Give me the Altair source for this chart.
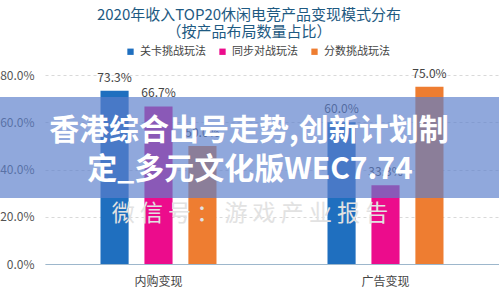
import altair as alt
import pandas as pd

categories = ["内购变现", "广告变现"]
series = ["关卡挑战玩法", "同步对战玩法", "分数挑战玩法"]
values_neigou = [0.733, 0.667, 0.500]
values_guanggao = [0.600, 0.333, 0.750]
colors = ["#1f6fbf", "#ec0c8c", "#ee7d31"]

title_line1 = "2020年收入TOP20休闲电竞产品变现模式分布"
title_line2 = "（按产品布局数量占比）"
banner_line1 = "香港综合出号走势,创新计划制"
banner_line2 = "定_多元文化版WEC7.74"
watermark = "微  信  号  ：  游  戏  产  业  报  告"

FONT = "Noto Sans CJK SC"

rows = []
for s, v in zip(series, values_neigou):
    rows.append({"cat": categories[0], "series": s, "value": v})
for s, v in zip(series, values_guanggao):
    rows.append({"cat": categories[1], "series": s, "value": v})
df = pd.DataFrame(rows)

x_scale = alt.Scale(paddingInner=0.489, paddingOuter=0.2445)
xoff_scale = alt.Scale(paddingInner=0.36, paddingOuter=0)
y_scale = alt.Scale(domain=[0, 0.8], nice=False)

x_enc = alt.X("cat:N", sort=categories, title=None, scale=x_scale,
              axis=alt.Axis(labelAngle=0, labelFont=FONT, labelFontSize=12,
                            labelColor="#444444", labelPadding=12, ticks=False,
                            domain=True, domainColor="#9db7cc", domainWidth=1.2,
                            grid=False))
xoff_enc = alt.XOffset("series:N", sort=series, scale=xoff_scale)
y_enc = alt.Y("value:Q", title=None, scale=y_scale,
              axis=alt.Axis(format=".1%", values=[0, 0.1, 0.2, 0.3, 0.4, 0.5, 0.6, 0.7, 0.8],
                            labelFont=FONT, labelFontSize=12, labelColor="#555555",
                            labelPadding=11, ticks=False, domain=False,
                            grid=True, gridColor="#d9d9d9", gridDash=[3, 3]))

base = alt.Chart(df)

bars = base.mark_bar().encode(
    x=x_enc, xOffset=xoff_enc, y=y_enc,
    color=alt.Color("series:N", sort=series,
                    scale=alt.Scale(domain=series, range=colors),
                    legend=alt.Legend(title=None, orient="none", direction="horizontal",
                                      legendX=80, legendY=-29, symbolType="square",
                                      symbolSize=40, symbolStrokeWidth=0,
                                      labelFont=FONT, labelFontSize=11,
                                      labelColor="#444444", labelOffset=4,
                                      columnPadding=11)),
)

labels = base.mark_text(baseline="bottom", dy=-6, font=FONT, fontSize=12,
                        color="#444444").encode(
    x=alt.X("cat:N", sort=categories, scale=x_scale),
    xOffset=alt.XOffset("series:N", sort=series, scale=xoff_scale),
    y=alt.Y("value:Q", scale=y_scale),
    text=alt.Text("value:Q", format=".1%"),
)


def text_layer(txt, x, y, **kw):
    return alt.Chart(pd.DataFrame({"t": [txt]})).mark_text(
        font=FONT, align="center", baseline="middle", **kw
    ).encode(text="t:N", x=alt.value(x), y=alt.value(y))


title1 = text_layer(title_line1, 204, -60, fontSize=15, color="#1e5a82")
title2 = text_layer(title_line2, 204, -43, fontSize=15, color="#1e5a82")
wm_layer = text_layer(watermark, 205, 139, fontSize=23, color="#e2e2e2")

banner = alt.Chart(pd.DataFrame({"a": [1]})).mark_rect(
    color="#5c7fcb", opacity=0.68
).encode(x=alt.value(-45), x2=alt.value(454), y=alt.value(22), y2=alt.value(123))

btext1 = text_layer(banner_line1, 204, 56, fontSize=30, fontWeight="bold", color="#ffffff")
btext2 = text_layer(banner_line2, 205, 95, fontSize=30, fontWeight="bold", color="#ffffff")

chart = alt.layer(bars, labels, wm_layer, title1, title2, banner, btext1, btext2).properties(
    width=454, height=189,
    autosize=alt.AutoSizeParams(type="none"),
    padding={"left": 45, "top": 75, "right": 0, "bottom": 32},
    background="#ffffff",
).configure_view(stroke=None)

chart.save("out.html", embed_options={"renderer": "svg", "actions": False})
